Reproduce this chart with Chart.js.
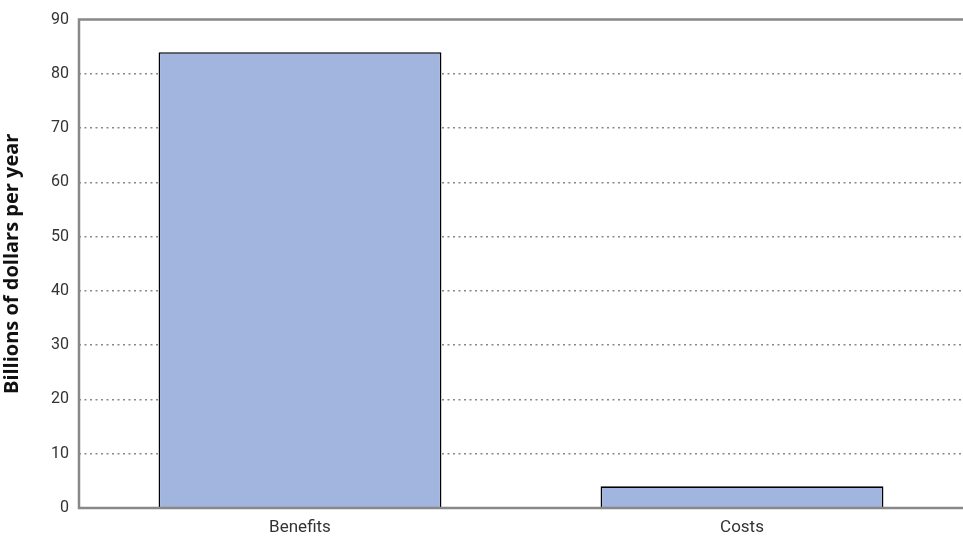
<!DOCTYPE html>
<html><head><meta charset="utf-8">
<script src="https://cdn.jsdelivr.net/npm/chart.js@4"></script>
<style>html,body{margin:0;padding:0;background:#fff}#wrap{width:963px;height:539px;position:relative}</style>
</head><body><div id="wrap"><canvas id="c"></canvas></div>
<script>
const categories = ["Benefits", "Costs"];
const values = [84, 4];
const yTicks = [0, 10, 20, 30, 40, 50, 60, 70, 80, 90];
const yTitle = "Billions of dollars per year";

const frame = {
  id: 'frame',
  afterDatasetsDraw(chart) {
    const {ctx, chartArea: a} = chart;
    ctx.save();
    ctx.strokeStyle = '#888888';
    ctx.lineWidth = 2.5;
    ctx.beginPath();
    ctx.moveTo(963, a.top); ctx.lineTo(a.left, a.top); ctx.lineTo(a.left, a.bottom); ctx.lineTo(963, a.bottom);
    ctx.stroke();
    ctx.restore();
  }
};

new Chart(document.getElementById('c'), {
  type: 'bar',
  data: { labels: categories, datasets: [{ data: values, backgroundColor: '#A2B5DF', borderColor: '#000000', borderWidth: 1.6, categoryPercentage: 0.8, barPercentage: 0.8 }] },
  options: {
    responsive: true, maintainAspectRatio: false, animation: false,
    layout: { padding: { top: 14, right: 0, left: 0, bottom: 0 } },
    plugins: { legend: { display: false }, tooltip: { enabled: false } },
    scales: {
      x: {
        grid: { display: false, drawTicks: false },
        border: { display: false },
        ticks: { color: '#333', font: { family: 'Roboto', size: 17 }, padding: 10 },
        afterFit: s => { s.height = 31; }
      },
      y: {
        min: 0, max: 90,
        afterBuildTicks: s => { s.ticks = yTicks.map(v => ({ value: v })); },
        grid: {
          drawTicks: false,
          color: c => (c.tick && (c.tick.value === 0 || c.tick.value === 90)) ? 'rgba(0,0,0,0)' : '#888888',
          lineWidth: 1.6
        },
        border: { display: false, dash: [2, 3.5] },
        ticks: { color: '#333', font: { family: 'Roboto', size: 16 }, padding: 10 },
        title: { display: true, text: yTitle, color: '#111', font: { family: 'Open Sans', size: 20, weight: 'bold' }, padding: { top: 0, bottom: 0 } },
        afterFit: s => { s.width = 79; }
      }
    }
  },
  plugins: [frame]
});
</script></body></html>
